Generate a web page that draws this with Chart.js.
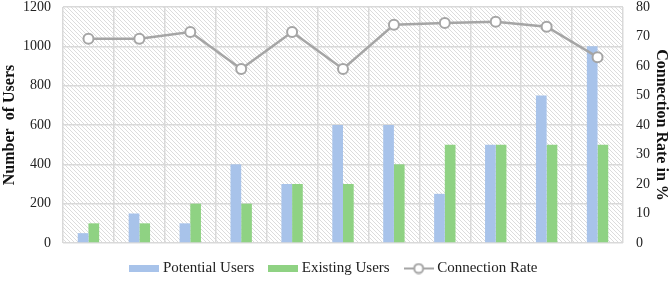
<!DOCTYPE html>
<html><head><meta charset="utf-8">
<script src="https://cdn.jsdelivr.net/npm/chart.js@4/dist/chart.umd.min.js"></script>
<style>html,body{margin:0;padding:0;background:#fff}#wrap{width:671px;height:281px;position:relative}</style>
</head><body><div id="wrap"><canvas id="c"></canvas></div>
<script>
const categories = ['1','2','3','4','5','6','7','8','9','10','11'];
const potentialUsers = [50,150,100,400,300,600,600,250,500,750,1000];
const existingUsers = [100,100,200,200,300,300,400,500,500,500,500];
const connectionRate = [69.2,69.2,71.5,59,71.5,59,74,74.6,75,73.3,63];
const leftTicks = [0,200,400,600,800,1000,1200];
const rightTicks = [0,10,20,30,40,50,60,70,80];

const BLUE='#A8C3EA', GREEN='#8FD283', GRAY='#A5A5A5';
const serif = "'Liberation Serif','Times New Roman',serif";

function tile(){
  const s=4, c=document.createElement('canvas'); c.width=s; c.height=s;
  const x=c.getContext('2d'); x.strokeStyle='#dcdcdc'; x.lineWidth=1;
  x.beginPath(); x.moveTo(-1,-1); x.lineTo(s+1,s+1); x.moveTo(-1,s-1); x.lineTo(1,s+1); x.moveTo(s-1,-1); x.lineTo(s+1,1); x.stroke();
  return c;
}
function boxImg(color){
  const c=document.createElement('canvas'); c.width=30; c.height=7;
  const x=c.getContext('2d'); x.fillStyle=color; x.fillRect(0,0,30,7); return c;
}
function lineImg(){
  const c=document.createElement('canvas'); c.width=30; c.height=12;
  const x=c.getContext('2d'); x.strokeStyle=GRAY; x.lineWidth=2;
  x.beginPath(); x.moveTo(0,6); x.lineTo(30,6); x.stroke();
  x.beginPath(); x.arc(15,6,4.5,0,Math.PI*2); x.fillStyle='#fff'; x.fill(); x.stroke();
  return c;
}
const imgs=[boxImg(BLUE),boxImg(GREEN),lineImg()];

const hatch = {
  id:'hatch',
  beforeDraw(chart){
    const {ctx, chartArea:a}=chart;
    ctx.save(); ctx.fillStyle=ctx.createPattern(tile(),'repeat');
    ctx.fillRect(a.left,a.top,a.right-a.left,a.bottom-a.top); ctx.restore();
  }
};
function fitY(w){ return s=>{ s.width=w; s.paddingTop=0; s.paddingBottom=0; }; }

new Chart(document.getElementById('c'),{
  data:{
    labels:categories,
    datasets:[
      {type:'line',label:'Connection Rate',data:connectionRate,yAxisID:'y1',borderColor:GRAY,borderWidth:2.5,
       pointRadius:5,pointBackgroundColor:'#fff',pointBorderColor:GRAY,pointBorderWidth:2,order:0},
      {type:'bar',label:'Potential Users',data:potentialUsers,backgroundColor:BLUE,yAxisID:'y',categoryPercentage:0.42,barPercentage:1,order:1},
      {type:'bar',label:'Existing Users',data:existingUsers,backgroundColor:GREEN,yAxisID:'y',categoryPercentage:0.42,barPercentage:1,order:1}
    ]
  },
  options:{
    responsive:true,maintainAspectRatio:false,animation:false,
    layout:{autoPadding:false,padding:{top:7,bottom:-5,left:0,right:0}},
    plugins:{
      tooltip:{enabled:false},
      legend:{position:'bottom',
        labels:{font:{family:serif,size:15},color:'#222',usePointStyle:true,pointStyleWidth:22,padding:18,
          generateLabels(chart){
            const order=[1,2,0];
            return order.map((di,i)=>({text:chart.data.datasets[di].label,pointStyle:imgs[i],fillStyle:'#fff',strokeStyle:'#fff',lineWidth:0,datasetIndex:di,fontColor:'#222'}));
          }}}
    },
    scales:{
      x:{ticks:{display:false},grid:{color:'#d9d9d9',lineWidth:1.5,drawTicks:false},border:{display:false}},
      y:{position:'left',min:0,max:1200,afterBuildTicks(s){s.ticks=leftTicks.map(v=>({value:v}));},
        afterFit:fitY(63),
        ticks:{font:{family:serif,size:14},color:'#222',padding:12,callback:v=>String(v)},
        grid:{color:'#d9d9d9',lineWidth:1.5,drawTicks:false},border:{display:false},
        title:{display:true,text:'Number  of Users',font:{family:serif,size:16,weight:'bold'},color:'#111',padding:{top:0,bottom:0}}},
      y1:{position:'right',min:0,max:80,afterBuildTicks(s){s.ticks=rightTicks.map(v=>({value:v}));},
        afterFit:fitY(48),
        ticks:{font:{family:serif,size:14},color:'#222',padding:13,callback:v=>String(v)},
        grid:{display:false,drawTicks:false},border:{display:false},
        title:{display:true,text:'Connection Rate in %',font:{family:serif,size:16,weight:'bold'},color:'#111',padding:{top:0,bottom:0}}}
    }
  },
  plugins:[hatch]
});
</script></body></html>
